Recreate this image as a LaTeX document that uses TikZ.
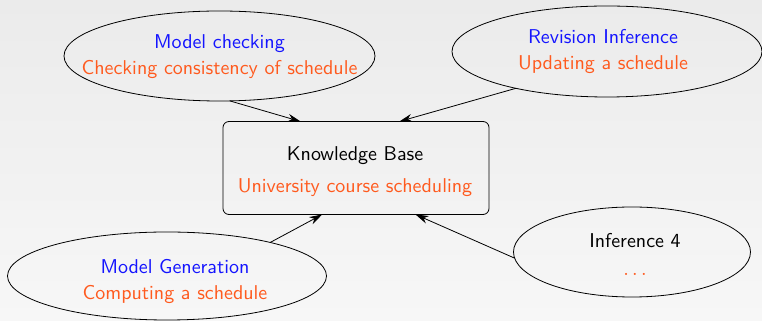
\documentclass[tikz,border=0pt]{standalone}
\usetikzlibrary{shapes.geometric,arrows.meta}
\definecolor{kbblue}{RGB}{20,20,255}
\definecolor{kborange}{RGB}{255,90,30}
\definecolor{bgtop}{RGB}{235,235,235}
\definecolor{bgbot}{RGB}{247,247,247}
\begin{document}
\begin{tikzpicture}[x=0.5pt, y=0.5pt, font=\sffamily,
	task/.style={ellipse, draw, inner sep=0pt, outer sep=0pt},
	tasktext/.style={align=center, inner sep=0pt},
	kbbox/.style={draw, rounded corners=3pt, inner sep=0pt, outer sep=0pt,
		minimum width=133pt, minimum height=46.5pt},
	arr/.style={-{Stealth[length=6.5pt, width=4pt]}}]
%
% background of the slide
\useasboundingbox (0,0) rectangle (762,321);
\shade[top color=bgtop, bottom color=bgbot] (0,0) rectangle (762,321);

%% knowledge base in the middle
\node[kbbox] (kb) at (356,153) {};
	\node[tasktext] (kbtext) at (355,149) {Knowledge Base\\[4pt]\textcolor{kborange}{University course scheduling}};

%% reasoning tasks round it
\node[task, minimum width=155.5pt, minimum height=45pt] (mc) at (219.5,265) {};
	\node[tasktext] (mctext) at (219.5,264) {\textcolor{kbblue}{Model checking}\\[1pt]\textcolor{kborange}{Checking consistency of schedule}};
\node[task, minimum width=155pt, minimum height=45.5pt] (ri) at (607,269.5) {};
	\node[tasktext] (ritext) at (603,269) {\textcolor{kbblue}{Revision Inference}\\[1pt]\textcolor{kborange}{Updating a schedule}};
\node[task, minimum width=159.5pt, minimum height=44pt] (mg) at (167,45) {};
	\node[tasktext] (mgtext) at (175,39) {\textcolor{kbblue}{Model Generation}\\[1pt]\textcolor{kborange}{Computing a schedule}};
\node[task, minimum width=118.5pt, minimum height=45pt] (inf) at (632,69) {};
	\node[tasktext] (inftext) at (635,67) {Inference 4\\[2pt]\textcolor{kborange}{$\ldots$}};

%% arrows into the knowledge base
\draw[arr] (mc.283) -- (kb.140);
\draw[arr] (ri.202) -- (kb.47);
\draw[arr] (mg.18) -- (kb.234);
\draw[arr] (inf.183) -- (kb.322);
\end{tikzpicture}
\end{document}
